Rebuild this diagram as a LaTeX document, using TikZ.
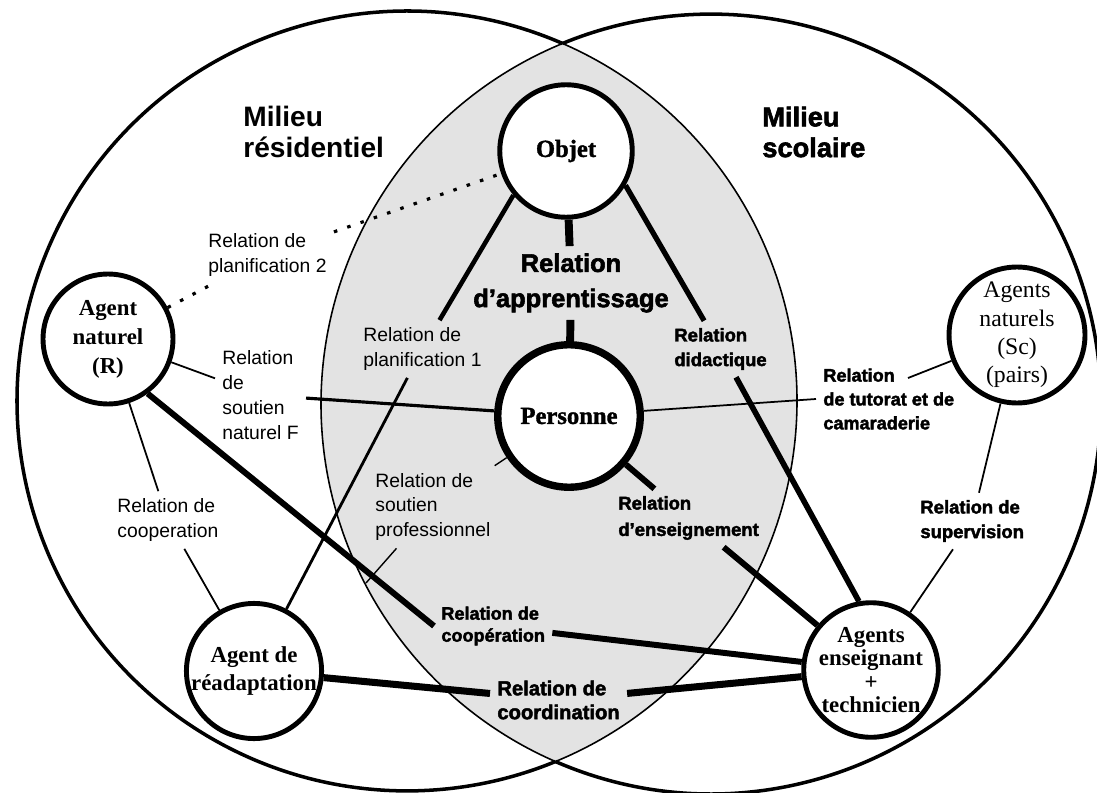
\documentclass[tikz,border=0pt]{standalone}
\usepackage{fontspec}
\setmainfont{Liberation Serif}
\setsansfont{Liberation Sans}
\newfontfamily\heavysans[FakeBold=2.2]{Liberation Sans}
\newfontfamily\heavyserif[FakeBold=1.4]{Liberation Serif}

\newcommand{\agentfont}{\fontsize{13}{16.5}\selectfont\bfseries}
\newcommand{\relfont}{\sffamily\fontsize{11}{14.2}\selectfont}
\newcommand{\relboldfont}{\heavysans\bfseries\fontsize{10.5}{14}\selectfont}

\tikzset{
	agent/.style={circle, draw, line width=2.8pt, fill=white, inner sep=0pt,
		minimum size=2.6cm, align=center, font=\agentfont},
	relation/.style={anchor=west, align=left, inner sep=4pt, font=\relfont},
	relgras/.style={relation, font=\relboldfont},
	mince/.style={line width=1pt},
	moyen/.style={line width=1.8pt},
	epais/.style={line width=3.4pt},
	pointille/.style={line width=1.8pt, dash pattern=on 2pt off 6pt}
}

\begin{document}
\begin{tikzpicture}[x=0.02cm, y=-0.02cm]
	\useasboundingbox (0,0) rectangle (1097,793);
	\clip (0,0) rectangle (1097,793);

	% les deux milieux
	\coordinate (L) at (407,401);
	\coordinate (R) at (711,404);
	\begin{scope}
		\clip (L) circle (7.8cm);
		\fill[black!11] (R) circle (7.8cm);
	\end{scope}
	\draw[line width=0.9pt] (L) ++(-67.6:7.8cm) arc[start angle=-67.6, end angle=66.5, radius=7.8cm];
	\draw[line width=0.9pt] (R) ++(112.4:7.8cm) arc[start angle=112.4, end angle=246.5, radius=7.8cm];
	\draw[line width=2pt] (L) ++(66.5:7.8cm) arc[start angle=66.5, end angle=292.4, radius=7.8cm];
	\draw[line width=2pt] (R) ++(-113.5:7.8cm) arc[start angle=-113.5, end angle=112.4, radius=7.8cm];

	\node[anchor=west, inner sep=0pt, align=left, font=\sffamily\bfseries\fontsize{16}{17.5}\selectfont] (milRes) at (243,132) {Milieu\\résidentiel};
	\node[anchor=west, inner sep=0pt, align=left, font=\heavysans\bfseries\fontsize{15.5}{17.5}\selectfont] (milSco) at (762,132) {Milieu\\scolaire};

	% agents
	\node[agent, minimum size=2.65cm, font=\heavyserif\bfseries\fontsize{14}{16}\selectfont] (objet) at (566,151) {Objet};
	\node[agent, minimum size=2.85cm, line width=4.2pt, font=\heavyserif\bfseries\fontsize{14}{16}\selectfont] (pers) at (569,416) {Personne};
	\node[agent] (agR) at (108,339) {Agent\\naturel\\(R)};
	\node[agent, minimum size=2.7cm] (agRead) at (254,671) {Agent de\\réadaptation};
	\node[agent, minimum size=2.72cm, font=\fontsize{13.5}{16.2}\selectfont] (agSc) at (1017,335) {Agents\\naturels\\(Sc)\\(pairs)};
	\node[agent, font=\agentfont\fontsize{13}{13.3}\selectfont] (agEns) at (871,670) {Agents\\enseignant\\+\\technicien};

	% relations
	\node[relation] (plan2) at (201,255) {Relation de\\planification 2};
	\node[relation] (plan1) at (356,349) {Relation de\\planification 1};
	\node[relation] (sNat) at (215,395) {Relation\\de\\soutien\\naturel F};
	\node[relation] (coopL) at (110,520) {Relation de\\cooperation};
	\node[relation] (soutPro) at (368,507) {Relation de\\soutien\\professionnel};
	\node[relgras, anchor=center, align=center, font=\heavysans\bfseries\fontsize{14.5}{20}\selectfont] (apprent) at (571,283) {Relation\\d’apprentissage};
	\node[relgras] (didac) at (667,349) {Relation\\didactique};
	\node[relgras, font=\heavysans\bfseries\fontsize{10.3}{13.6}\selectfont] (tut) at (816,399) {Relation\\de tutorat et de\\camaraderie};
	\node[relgras, font=\heavysans\bfseries\fontsize{10.5}{15}\selectfont] (ens) at (611,518) {Relation\\d’enseignement};
	\node[relgras] (superv) at (913,521) {Relation de\\supervision};
	\node[relgras, font=\heavysans\bfseries\fontsize{10.3}{12.5}\selectfont] (coopB) at (434,626) {Relation de\\coopération};
	\node[relgras, font=\heavysans\bfseries\fontsize{11.5}{13.6}\selectfont] (coord) at (490,700) {Relation de\\coordination};

	\coordinate (finPro) at (366,583);
	\coordinate (finTut) at (908,378);

	\draw[pointille] (agR) -- (plan2);
	\draw[pointille] (plan2) -- (objet);
	\draw[line width=4.5pt] (objet) -- (apprent);
	\draw[line width=4.5pt] (apprent) -- (pers);
	\draw[line width=2.6pt] (objet.-140) -- (plan1);
	\draw[line width=1.6pt] (plan1) -- (agRead);
	\draw[line width=3pt] (objet.-30) -- (didac);
	\draw[line width=3.2pt] (didac) -- (agEns.100);
	\draw[mince] (agR) -- (sNat);
	\draw[moyen] (sNat) -- (pers);
	\draw[mince] (agR) -- (coopL);
	\draw[mince] (coopL) -- (agRead);
	\draw[epais] (agR.-54) -- (coopB.west);
	\draw[epais] (coopB) -- (agEns);
	\draw[line width=0.8pt] (pers) -- (soutPro);
	\draw[line width=0.8pt] (soutPro) -- (finPro);
	\draw[mince] (pers) -- (tut.west);
	\draw[mince] (finTut) -- (agSc);
	\draw[epais] (pers) -- (ens);
	\draw[epais] (ens) -- (agEns);
	\draw[mince] (agSc) -- (superv);
	\draw[mince] (superv) -- (agEns);
	\draw[line width=4pt] (agRead) -- (coord);
	\draw[line width=4pt] (coord) -- (agEns);
\end{tikzpicture}
\end{document}
